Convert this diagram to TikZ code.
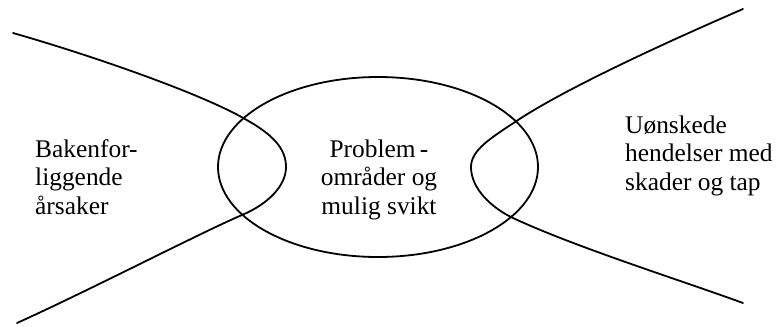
\documentclass[tikz,border=0pt]{standalone}
\usepackage{fontspec}
\setmainfont{Liberation Serif}
\usetikzlibrary{shapes.geometric}
\begin{document}
\begin{tikzpicture}[x=1bp,y=-1bp,
  curve/.style={line width=1.8bp, line join=round, line cap=round},
  label/.style={inner sep=0pt, font=\fontsize{25.5}{28.5}\selectfont}]
\useasboundingbox (0,0) rectangle (777,326);
% central ellipse
\node[curve, draw, ellipse, minimum width=320bp, minimum height=180bp, inner sep=0pt] (core) at (378,167) {};
% left curve
\coordinate (lt) at (13,33);
\coordinate (lb) at (17,323);
\coordinate (lv) at (286,167);
\draw[curve] (lt) .. controls (90,55) and (200,93) .. (245,119)
  .. controls (272,134) and (286,148) .. (lv)
  .. controls (286,186) and (268,204) .. (242,215)
  .. controls (200,233) and (90,290) .. (lb);
% right curve
\coordinate (rt) at (743,9);
\coordinate (rb) at (743,303);
\coordinate (rv) at (471,167);
\draw[curve] (rt) .. controls (690,32) and (570,85) .. (515,122)
  .. controls (491,138) and (471,150) .. (rv)
  .. controls (471,189) and (492,208) .. (513,218)
  .. controls (575,247) and (680,280) .. (rb);
% texts
\node[label, align=left, anchor=base west] (causes) at (35,214) {Bakenfor-\\liggende\\årsaker};
\node[label, align=center, anchor=base] (problems) at (379,214) {Problem\,-\\områder og\\mulig svikt};
\node[label, align=left, anchor=base west] (events) at (625,190) {Uønskede\\hendelser med\\skader og tap};
\end{tikzpicture}
\end{document}
